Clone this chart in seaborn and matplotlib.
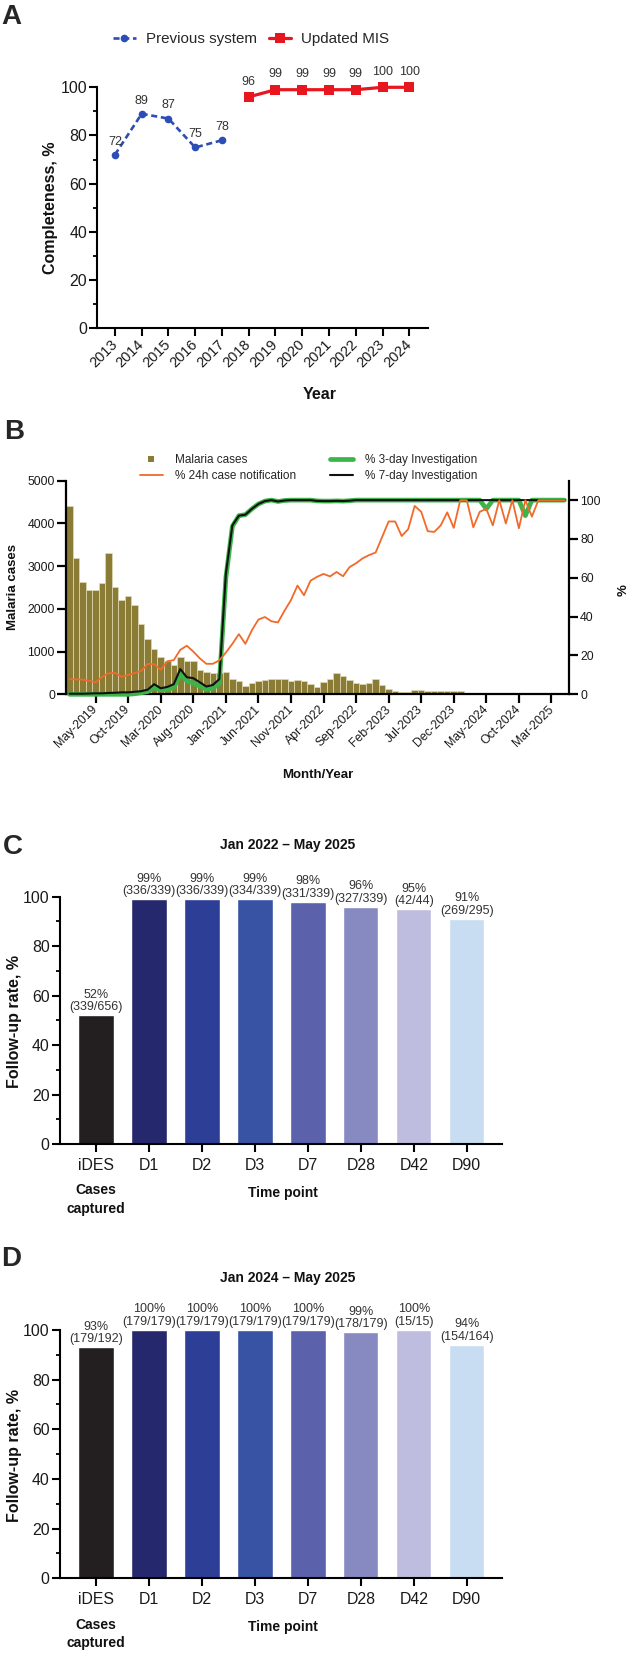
import matplotlib
matplotlib.use("Agg")
import numpy as np
import pandas as pd
import matplotlib.pyplot as plt
import seaborn as sns
from matplotlib import font_manager
from matplotlib.lines import Line2D
from matplotlib.ticker import MultipleLocator

# ---------------- data ----------------
# A: reporting completeness
prev_years = [2013, 2014, 2015, 2016, 2017]
prev_completeness = [72, 89, 87, 75, 78]
mis_years = [2018, 2019, 2020, 2021, 2022, 2023, 2024]
mis_completeness = [96, 99, 99, 99, 99, 100, 100]
all_years = prev_years + mis_years

# B: monthly cases and timeliness, Jan-2019 .. May-2025
month_labels = pd.date_range("2019-01-01", "2025-05-01", freq="MS").strftime("%b-%Y").tolist()
malaria_cases = [4400, 3200, 2630, 2430, 2430, 2600, 3300, 2500, 2200, 2300,
                 2100, 1650, 1300, 1050, 880, 780, 680, 870, 790, 770,
                 570, 530, 505, 490, 515, 360, 312, 205, 257, 304,
                 340, 350, 350, 350, 310, 345, 320, 234, 180, 289,
                 351, 491, 429, 335, 257, 234, 273, 351, 218, 117,
                 78, 47, 47, 101, 101, 86, 86, 78, 70, 70,
                 78, 23, 0, 0, 0, 0, 0, 0, 0, 0,
                 0, 0, 0, 0, 0, 0, 0]
notif_24h = [7.8, 7.7, 7.5, 7.0, 6.2, 9.0, 10.8, 11.0, 9.0, 10.0,
             11.0, 12.0, 15.7, 15.5, 12.6, 17.0, 17.6, 22.9, 25.0, 22.0,
             18.5, 15.7, 15.7, 17.5, 21.5, 26.0, 31.0, 26.0, 33.0, 38.5,
             39.8, 37.6, 37.0, 43.0, 48.5, 56.0, 51.0, 58.5, 60.5, 62.0,
             60.7, 63.0, 60.8, 65.5, 67.5, 70.0, 71.7, 73.0, 81.0, 89.0,
             89.0, 81.5, 85.0, 97.0, 94.0, 84.0, 83.6, 87.0, 93.7, 85.7,
             100, 100, 86.0, 94.0, 95.5, 87.0, 100, 88.0, 100, 85.5,
             100, 91.5, 100, 100, 100, 100, 100]
invest_3day = [0, 0, 0, 0, 0, 0, 0, 0, 0, 0,
               0.3, 0.8, 1.4, 3.5, 2.2, 2.6, 3.5, 10.4, 6.9, 5.7,
               4.3, 2.6, 3.1, 5.7, 60.0, 86.5, 92.0, 92.5, 95.5, 98.0,
               99.5, 100, 99.3, 99.8, 100, 100, 100, 100, 99.6, 99.5,
               99.5, 99.6, 99.5, 99.7, 100, 100, 100, 100, 100, 100,
               100, 100, 100, 100, 100, 100, 100, 100, 100, 100,
               100, 100, 100, 100, 95.5, 100, 100, 100, 100, 100,
               92.0, 100, 100, 100, 100, 100, 100]
invest_7day = [0.3, 0.3, 0.3, 0.4, 0.5, 0.5, 0.7, 0.8, 1.0, 1.0,
               1.3, 1.6, 2.4, 5.2, 3.1, 3.8, 5.2, 13.0, 8.8, 8.3,
               6.2, 4.0, 4.8, 7.8, 62.0, 87.0, 92.0, 92.5, 95.5, 98.0,
               99.5, 100, 99.3, 99.8, 100, 100, 100, 100, 99.6, 99.5,
               99.5, 99.6, 99.5, 99.7, 100, 100, 100, 100, 100, 100,
               100, 100, 100, 100, 100, 100, 100, 100, 100, 100,
               100, 100, 100, 100, 100, 100, 100, 100, 100, 100,
               100, 100, 100, 100, 100, 100, 100]
b_tick_labels = ["May-2019", "Oct-2019", "Mar-2020", "Aug-2020", "Jan-2021",
                 "Jun-2021", "Nov-2021", "Apr-2022", "Sep-2022", "Feb-2023",
                 "Jul-2023", "Dec-2023", "May-2024", "Oct-2024", "Mar-2025"]

# C / D: follow-up rates
timepoints = ["iDES", "D1", "D2", "D3", "D7", "D28", "D42", "D90"]
rate_2022 = [52, 99, 99, 99, 98, 96, 95, 91]
count_2022 = ["339/656", "336/339", "336/339", "334/339", "331/339", "327/339", "42/44", "269/295"]
rate_2024 = [93, 100, 100, 100, 100, 99, 100, 94]
count_2024 = ["179/192", "179/179", "179/179", "179/179", "179/179", "178/179", "15/15", "154/164"]
bar_colors = ["#231f20", "#26286e", "#2d3e96", "#3953a4", "#5b62ab", "#8789c1", "#bfbddf", "#c8ddf2"]

BLUE = "#2c4db5"
RED = "#e8161e"
OLIVE = "#8a7c34"
GREEN = "#3bb54a"
ORANGE = "#f26a2a"

# ---------------- style ----------------
sns.set_theme(style="ticks")
names = {f.name for f in font_manager.fontManager.ttflist}
if "Liberation Sans Narrow" in names:
    NARROW, k = "Liberation Sans Narrow", 1.0
else:
    NARROW, k = "Liberation Sans", 0.95
plt.rcParams["font.family"] = ["Liberation Sans", "DejaVu Sans"]
plt.rcParams["axes.edgecolor"] = "black"
plt.rcParams["axes.linewidth"] = 1.5

W, H = 634, 1655
fig = plt.figure(figsize=(W / 100, H / 100), dpi=100)


def frame(l, t, r, b):
    return [l / W, 1 - b / H, (r - l) / W, (b - t) / H]


def axis_text(ax, x, y, s, size, rot=0, **kw):
    ax.text(x, y, s, transform=ax.transAxes, ha="center", va="center",
            rotation=rot, fontsize=size, fontweight="bold", color="#111111", **kw)


# ---------------- A ----------------
axA = fig.add_axes(frame(97, 87.3, 428, 328))
sns.lineplot(x=prev_years, y=prev_completeness, ax=axA, color=BLUE, lw=1.9,
             marker="o", markersize=5.5, markeredgewidth=0, clip_on=False)
axA.lines[-1].set_dashes([2.3, 1.4])
sns.lineplot(x=mis_years, y=mis_completeness, ax=axA, color=RED, lw=2.3,
             marker="s", markersize=6.5, markeredgewidth=0, clip_on=False)
for yr, v in zip(prev_years, prev_completeness):
    axA.annotate(str(v), (yr, v), xytext=(0, 9.5), textcoords="offset points",
                 ha="center", va="center", fontsize=9.5 * k, family=NARROW, color="#333333")
for yr, v in zip(mis_years, mis_completeness):
    axA.annotate(str(v), (yr, v), xytext=(0, 11), textcoords="offset points",
                 ha="center", va="center", fontsize=9.5 * k, family=NARROW, color="#333333")
axA.set_xlim(2012.33, 2024.7)
axA.set_ylim(0, 100)
axA.set_yticks(range(0, 101, 20))
axA.yaxis.set_minor_locator(MultipleLocator(10))
axA.set_xticks(all_years)
axA.set_xticklabels([str(y) for y in all_years], rotation=45, ha="right",
                    rotation_mode="anchor", va="center")
for lbl in axA.get_xticklabels():
    lbl.set_fontfamily(NARROW); lbl.set_fontsize(11 * k)
for lbl in axA.get_yticklabels():
    lbl.set_fontfamily(NARROW); lbl.set_fontsize(12 * k)
axA.tick_params(axis="both", which="major", length=6, width=1.5, color="black", labelcolor="#1a1a1a")
axA.tick_params(axis="x", pad=4)
axA.tick_params(axis="y", pad=1)
axA.tick_params(axis="y", which="minor", length=3, width=1.3, color="black")
axA.set_xlabel(""); axA.set_ylabel("")
sns.despine(ax=axA)
axis_text(axA, -0.139, 0.5, "Completeness, %", 11.5, rot=90)
axis_text(axA, 0.672, -0.278, "Year", 11.5)
hA = [Line2D([], [], color=BLUE, lw=1.9, ls=(0, (2.3, 1.4)), marker="o", markersize=5.5, markeredgewidth=0),
      Line2D([], [], color=RED, lw=2.3, marker="s", markersize=6.5, markeredgewidth=0)]
axA.legend(hA, ["Previous system", "Updated MIS"], loc="center left", bbox_to_anchor=(0.048, 1.199),
           ncol=2, frameon=False, handlelength=1.5, handletextpad=0.65, columnspacing=0.8,
           borderaxespad=0, borderpad=0, prop={"family": NARROW, "size": 11.5 * k})

# ---------------- B ----------------
axB = fig.add_axes(frame(66, 480.7, 569, 694.3))
sns.barplot(x=month_labels, y=malaria_cases, color=OLIVE, saturation=1, width=1.0,
            edgecolor="#e2dbb6", linewidth=0.5, ax=axB)
axB.set_xlim(-0.55, 76.7)
axB.set_ylim(0, 5000)
axB.set_yticks(range(0, 5001, 1000))
axB.set_xticks([month_labels.index(t) for t in b_tick_labels])
axB.set_xticklabels(b_tick_labels, rotation=45, ha="right", rotation_mode="anchor", va="center")
axB.tick_params(axis="both", which="major", length=6.5, width=1.6, color="black",
                labelsize=8.8, labelcolor="#1a1a1a")
axB.tick_params(axis="x", pad=3)
axB.tick_params(axis="y", pad=1.5)
axB.set_xlabel(""); axB.set_ylabel("")
for s in ["top", "right"]:
    axB.spines[s].set_visible(False)
for s in ["left", "bottom"]:
    axB.spines[s].set_linewidth(1.6)

axB2 = axB.twinx()
idx = np.arange(len(month_labels))
sns.lineplot(x=idx, y=invest_3day, ax=axB2, color=GREEN, lw=3.4, clip_on=False)
sns.lineplot(x=idx, y=invest_7day, ax=axB2, color="#111111", lw=1.5, clip_on=False)
sns.lineplot(x=idx, y=notif_24h, ax=axB2, color=ORANGE, lw=1.3, clip_on=False)
axB2.set_xlim(-0.55, 76.7)
axB2.set_ylim(0, 110)
axB2.set_yticks(range(0, 101, 20))
axB2.tick_params(axis="y", length=6.5, width=1.6, color="black", labelsize=8.8,
                 labelcolor="#1a1a1a", pad=1.5)
axB2.set_xlabel(""); axB2.set_ylabel("")
for s in ["top", "left", "bottom"]:
    axB2.spines[s].set_visible(False)
axB2.spines["right"].set_visible(True)
axB2.spines["right"].set_linewidth(1.6)

axis_text(axB, -0.105, 0.5, "Malaria cases", 9.5, rot=90)
axis_text(axB, 1.108, 0.49, "%", 9.5, rot=90)
axis_text(axB, 0.5, -0.378, "Month/Year", 9.5)
hB = [Line2D([], [], color=OLIVE, marker="s", ls="none", markersize=4.5, markeredgewidth=0),
      Line2D([], [], color=ORANGE, lw=1.3),
      Line2D([], [], color=GREEN, lw=3.4),
      Line2D([], [], color="#111111", lw=1.5)]
axB2.legend(hB, ["Malaria cases", "% 24h case notification", "% 3-day Investigation", "% 7-day Investigation"],
            loc="center left", bbox_to_anchor=(0.147, 1.059), ncol=2, frameon=False,
            handlelength=1.95, handletextpad=1.0, columnspacing=2.9, labelspacing=0.36,
            borderaxespad=0, borderpad=0, fontsize=8.5)


# ---------------- C / D ----------------
def follow_up_panel(ax, rates, counts, title):
    sns.barplot(x=timepoints, y=rates, hue=timepoints, palette=bar_colors, legend=False,
                width=0.667, saturation=1, ax=ax)
    for i, (r, c) in enumerate(zip(rates, counts)):
        ax.annotate(f"{r}%\n({c})", (i, r), xytext=(0, 1.5), textcoords="offset points",
                    ha="center", va="bottom", fontsize=9.5 * k, family=NARROW,
                    color="#333333", linespacing=1.05, annotation_clip=False)
    ax.set_xlim(-0.68, 7.66)
    ax.set_ylim(0, 100)
    ax.set_yticks(range(0, 101, 20))
    ax.yaxis.set_minor_locator(MultipleLocator(10))
    ax.tick_params(axis="both", which="major", length=5.5, width=1.5, color="black", labelcolor="#1a1a1a")
    ax.tick_params(axis="x", pad=4.5)
    ax.tick_params(axis="y", pad=2)
    ax.tick_params(axis="y", which="minor", length=3, width=1.3, color="black")
    for lbl in ax.get_xticklabels() + ax.get_yticklabels():
        lbl.set_fontfamily(NARROW); lbl.set_fontsize(12 * k)
    ax.set_xlabel(""); ax.set_ylabel("")
    sns.despine(ax=ax)
    axis_text(ax, -0.104, 0.494, "Follow-up rate, %", 11.5, rot=90)
    axis_text(ax, 0.504, -0.197, "Time point", 10)
    ax.text(0, -0.224, "Cases\ncaptured", transform=ax.get_xaxis_transform(), ha="center",
            va="center", fontsize=10, fontweight="bold", color="#111111", linespacing=1.4)
    ax.text(0.516, 1.209, title, transform=ax.transAxes, ha="center", va="center",
            fontsize=10, fontweight="bold", color="#111111")


axC = fig.add_axes(frame(60, 896.7, 501.7, 1144))
follow_up_panel(axC, rate_2022, count_2022, "Jan 2022 \u2013 May 2025")
axD = fig.add_axes(frame(60, 1330, 501.7, 1578.3))
follow_up_panel(axD, rate_2024, count_2024, "Jan 2024 \u2013 May 2025")

# panel letters
for letter, (px, py) in {"A": (11, 17.5), "B": (14, 432), "C": (13, 847), "D": (11, 1259)}.items():
    fig.text(px / W, 1 - py / H, letter, ha="center", va="center", fontsize=20, fontweight="bold")

fig.savefig("out.png", dpi=100)
